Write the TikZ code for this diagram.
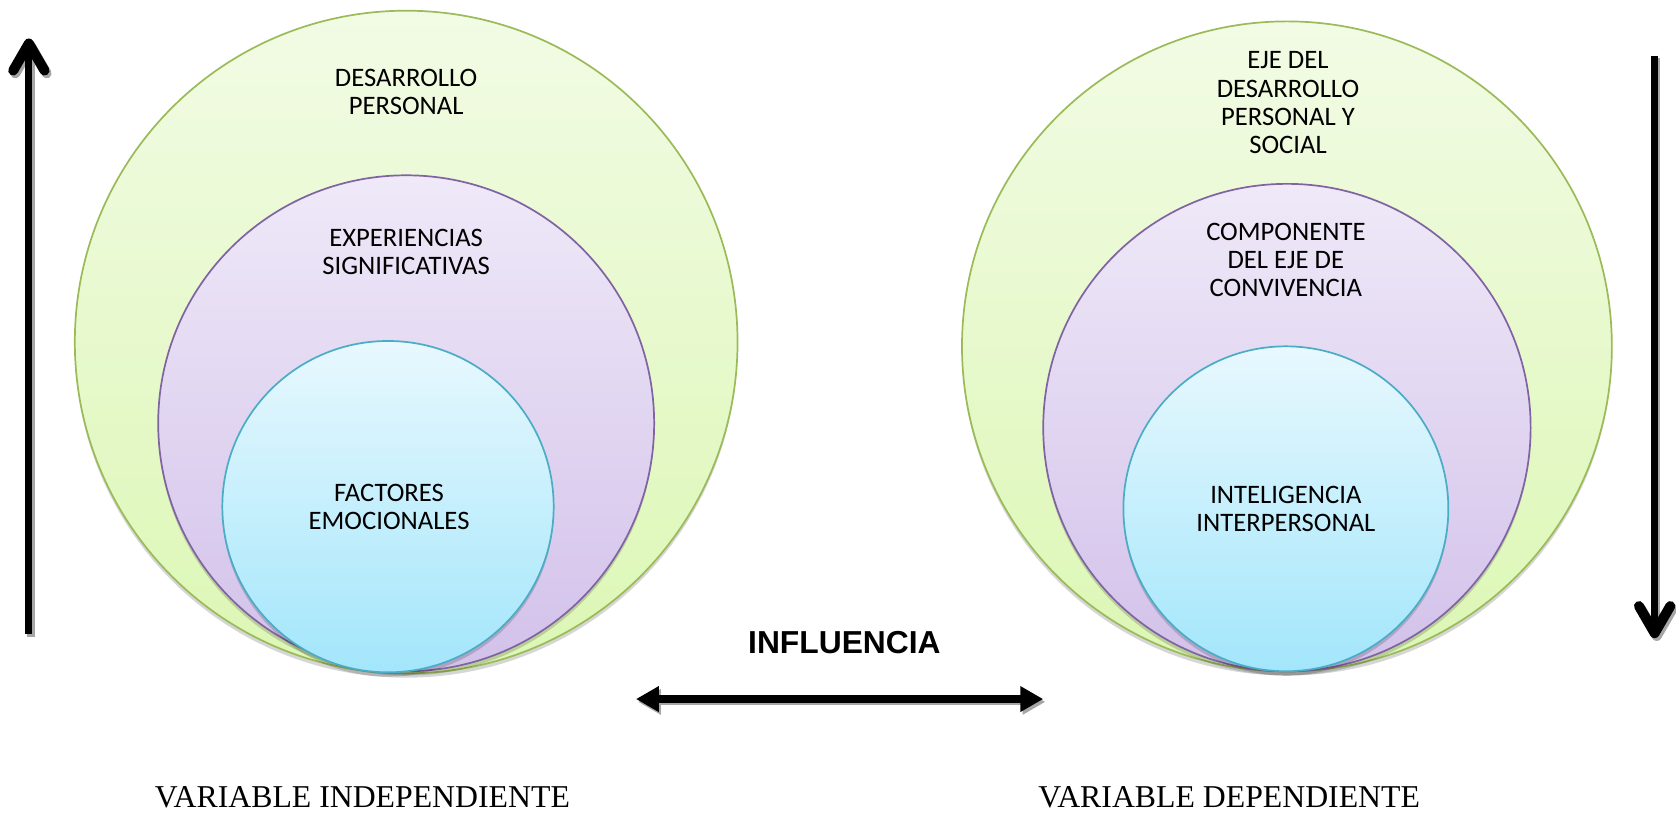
\documentclass[tikz,border=0pt]{standalone}
\usepackage{fontspec}
\setmainfont{Carlito}
\newfontfamily\varfont{Liberation Serif}
\newfontfamily\inffont{Liberation Sans}
\usetikzlibrary{arrows.meta}

\definecolor{greenline}{HTML}{9BBB59}
\definecolor{greentop}{HTML}{F2FBE5}
\definecolor{greenbot}{HTML}{DCF7B4}
\definecolor{purpleline}{HTML}{8064A2}
\definecolor{purpletop}{HTML}{EFE9F8}
\definecolor{purplebot}{HTML}{D2C1EA}
\definecolor{blueline}{HTML}{4BACC6}
\definecolor{bluetop}{HTML}{E8F8FE}
\definecolor{bluebot}{HTML}{A3E6FB}

\tikzset{every picture/.style={line width=0.75pt}}
\tikzset{
  ringshadow/.style={preaction={fill=black,opacity=0.16,transform canvas={yshift=-3pt}}},
  greenring/.style={ringshadow,draw=greenline,line width=1.2pt,top color=greentop,bottom color=greenbot},
  purplering/.style={ringshadow,draw=purpleline,line width=1.2pt,top color=purpletop,bottom color=purplebot},
  bluering/.style={ringshadow,draw=blueline,line width=1.2pt,top color=bluetop,bottom color=bluebot},
  ringtext/.style={inner sep=0.75pt,align=center,font=\fontsize{18.7}{19.7}\selectfont},
  vararrow/.style={line width=5pt,-{Straight Barb[round,length=19pt,width=22pt,line width=7pt]}},
  twoway/.style={line width=5pt,{Triangle[length=16pt,width=17pt]}-{Triangle[length=16pt,width=17pt]}},
  arrowshade/.style={draw=black!35,transform canvas={xshift=1.5pt,yshift=-2pt}}
}

\begin{document}
\begin{tikzpicture}[x=0.75pt,y=0.75pt,yscale=-1,xscale=1]
\useasboundingbox (0,0) rectangle (1568,761);

%Shape: Circle [left outer]
\draw [greenring] (380,320) circle [radius=310] ;
%Shape: Circle [left middle]
\draw [purplering] (380,396) circle [radius=232] ;
%Shape: Circle [left inner]
\draw [bluering] (363,474) circle [radius=155] ;

%Shape: Circle [right outer]
\draw [greenring] (1204,324) circle [radius=304] ;
%Shape: Circle [right middle]
\draw [purplering] (1204,400) circle [radius=228] ;
%Shape: Circle [right inner]
\draw [bluering] (1203,476) circle [radius=152] ;

% Arrow ends
\coordinate (upTail) at (27,593) ;
\coordinate (upHead) at (27,36) ;
\coordinate (downTail) at (1548,52) ;
\coordinate (downHead) at (1548,597) ;
\coordinate (inflLeft) at (595,654) ;
\coordinate (inflRight) at (976,654) ;

%Straight Lines [up arrow]
\draw [vararrow,arrowshade] (upTail) -- (upHead) ;
\draw [vararrow] (upTail) -- (upHead) ;
%Straight Lines [down arrow]
\draw [vararrow,arrowshade] (downTail) -- (downHead) ;
\draw [vararrow] (downTail) -- (downHead) ;
%Straight Lines [influence arrow]
\draw [twoway,arrowshade] (inflLeft) -- (inflRight) ;
\draw [twoway] (inflLeft) -- (inflRight) ;

% Text Node
\draw (380,86) node [ringtext] (desPersonal) {DESARROLLO\\PERSONAL};
% Text Node
\draw (380,236) node [ringtext] (expSignif) {EXPERIENCIAS\\SIGNIFICATIVAS};
% Text Node
\draw (364,474) node [ringtext] (factEmoc) {FACTORES\\EMOCIONALES};
% Text Node
\draw (1205,96) node [ringtext] (ejeDes) {EJE DEL\\DESARROLLO\\PERSONAL Y\\SOCIAL};
% Text Node
\draw (1203,243) node [ringtext] (compConv) {COMPONENTE\\DEL EJE DE\\CONVIVENCIA};
% Text Node
\draw (1203,476) node [ringtext] (intInter) {INTELIGENCIA\\INTERPERSONAL};
% Text Node
\draw (790,601) node [inner sep=0.75pt,font=\inffont\bfseries\fontsize{22.3}{26}\selectfont] (influencia) {INFLUENCIA};
% Text Node
\draw (339,746) node [inner sep=0.75pt,font=\varfont\fontsize{22.3}{26}\selectfont] (varIndep) {VARIABLE INDEPENDIENTE};
% Text Node
\draw (1150,746) node [inner sep=0.75pt,font=\varfont\fontsize{22.3}{26}\selectfont] (varDep) {VARIABLE DEPENDIENTE};

\end{tikzpicture}
\end{document}
